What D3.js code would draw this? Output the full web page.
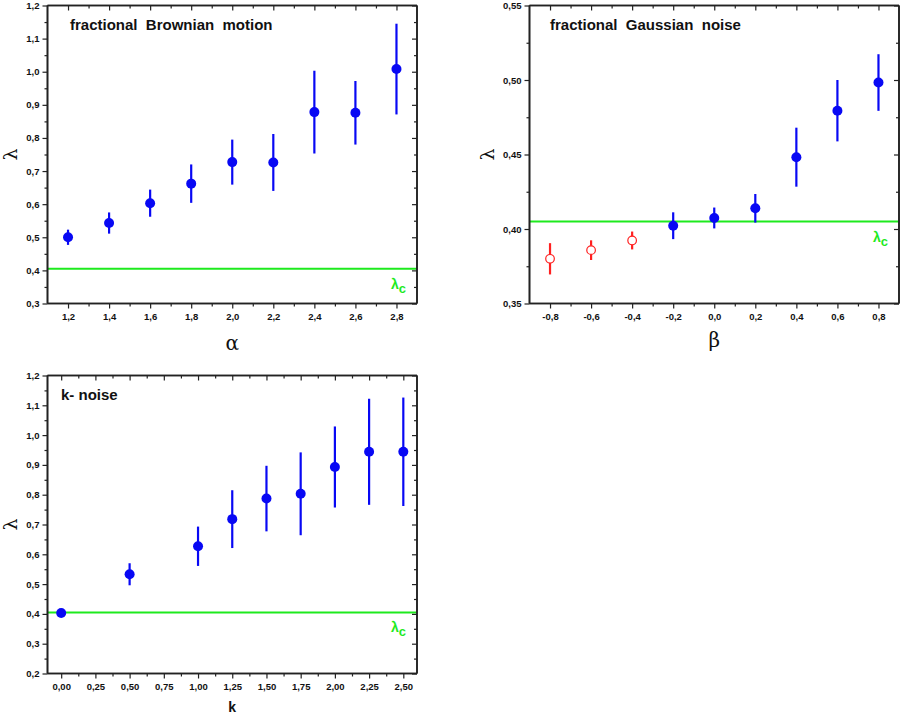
<!DOCTYPE html>
<html><head><meta charset="utf-8">
<script src="https://cdn.jsdelivr.net/npm/d3@7"></script>
<style>body{margin:0;background:#fff;} svg{display:block;font-family:"Liberation Sans",Arial,sans-serif;}</style>
</head><body>
<svg id="c" width="900" height="714"></svg>
<script>
const lambdaC = 0.405;

// Panel 1: fractional Brownian motion
const fbmAlpha = [1.2, 1.4, 1.6, 1.8, 2.0, 2.2, 2.4, 2.6, 2.8];
const fbmLambda = [0.500, 0.543, 0.603, 0.662, 0.727, 0.726, 0.878, 0.876, 1.008];
const fbmErr = [0.023, 0.032, 0.041, 0.058, 0.068, 0.086, 0.125, 0.096, 0.137];
const fbmXTicks = [1.2, 1.4, 1.6, 1.8, 2.0, 2.2, 2.4, 2.6, 2.8];
const fbmYTicks = [0.3, 0.4, 0.5, 0.6, 0.7, 0.8, 0.9, 1.0, 1.1, 1.2];

// Panel 2: fractional Gaussian noise
const fgnBeta = [-0.8, -0.6, -0.4, -0.2, 0.0, 0.2, 0.4, 0.6, 0.8];
const fgnLambda = [0.380, 0.3858, 0.3923, 0.4022, 0.4074, 0.4139, 0.4482, 0.4794, 0.4983];
const fgnErr = [0.0105, 0.0066, 0.006, 0.009, 0.007, 0.0096, 0.0198, 0.0206, 0.019];
const fgnOpen = [true, true, true, false, false, false, false, false, false];
const fgnXTicks = [-0.8, -0.6, -0.4, -0.2, 0.0, 0.2, 0.4, 0.6, 0.8];
const fgnYTicks = [0.35, 0.40, 0.45, 0.50, 0.55];

// Panel 3: k-noise
const kK = [0.0, 0.5, 1.0, 1.25, 1.5, 1.75, 2.0, 2.25, 2.5];
const kLambda = [0.403, 0.533, 0.627, 0.718, 0.787, 0.803, 0.893, 0.944, 0.944];
const kErr = [0, 0.037, 0.066, 0.097, 0.11, 0.139, 0.136, 0.178, 0.182];
const kXTicks = [0.0, 0.25, 0.5, 0.75, 1.0, 1.25, 1.5, 1.75, 2.0, 2.25, 2.5];
const kYTicks = [0.2, 0.3, 0.4, 0.5, 0.6, 0.7, 0.8, 0.9, 1.0, 1.1, 1.2];

const svg = d3.select("#c");
const BLUE = "#0808f4", RED = "#ff2020", GREEN = "#1eea1e", AX = "#222";

function comma(v, d){ return v.toFixed(d).replace(".", ","); }

function panel(o){
  const g = svg.append("g");
  const x = d3.scaleLinear().domain(o.xdom).range([o.left, o.right]);
  const y = d3.scaleLinear().domain(o.ydom).range([o.bottom, o.top]);
  const xMinor = [];
  for (let i = 0; i < o.xTicks.length - 1; i++) xMinor.push((o.xTicks[i] + o.xTicks[i+1]) / 2);
  xMinor.push(o.xTicks[0] - (o.xTicks[1]-o.xTicks[0])/2);
  xMinor.push(o.xTicks[o.xTicks.length-1] + (o.xTicks[1]-o.xTicks[0])/2);
  const yMinor = [];
  for (let i = 0; i < o.yTicks.length - 1; i++) yMinor.push((o.yTicks[i] + o.yTicks[i+1]) / 2);
  const xMin = xMinor.filter(v => v > o.xdom[0] && v < o.xdom[1]);

  g.append("line").attr("x1", x(o.xdom[0])).attr("x2", x(o.xdom[1]))
    .attr("y1", y(lambdaC)).attr("y2", y(lambdaC))
    .attr("stroke", GREEN).attr("stroke-width", 2);
  g.append("text").attr("x", o.right - 26).attr("y", y(lambdaC) + 20)
    .attr("fill", GREEN).attr("font-weight", "bold").attr("font-size", 14)
    .html('λ<tspan dy="4" font-size="13">c</tspan>');

  const bottomAxis = d3.axisBottom(x).tickValues(o.xTicks).tickFormat(v => comma(v, o.xd)).tickSize(5).tickPadding(5);
  const gb = g.append("g").attr("transform", `translate(0,${o.bottom})`).call(bottomAxis);
  gb.append("g").call(d3.axisBottom(x).tickValues(xMin).tickFormat("").tickSize(3));
  const topAxis = d3.axisBottom(x).tickValues(o.xTicks).tickFormat("").tickSize(5);
  const gt = g.append("g").attr("transform", `translate(0,${o.top})`).call(topAxis);
  gt.append("g").call(d3.axisBottom(x).tickValues(xMin).tickFormat("").tickSize(3));
  const leftAxis = d3.axisLeft(y).tickValues(o.yTicks).tickFormat(v => comma(v, o.yd)).tickSize(5).tickPadding(3);
  const gl = g.append("g").attr("transform", `translate(${o.left},0)`).call(leftAxis);
  gl.append("g").call(d3.axisLeft(y).tickValues(yMinor).tickFormat("").tickSize(3));
  const gr = g.append("g").attr("transform", `translate(${o.right},0)`).call(d3.axisLeft(y).tickValues(o.yTicks).tickFormat("").tickSize(5));
  gr.append("g").call(d3.axisLeft(y).tickValues(yMinor).tickFormat("").tickSize(3));
  [gb, gt, gl, gr].forEach(a => {
    a.selectAll("path.domain").attr("stroke", AX).attr("stroke-width", 1.6);
    a.selectAll("line").attr("stroke", AX).attr("stroke-width", 1.2);
    a.selectAll("text").attr("font-size", 9.5).attr("font-weight", "bold").attr("fill", "#111")
      .attr("font-family", "'Liberation Sans',Arial,sans-serif");
  });
  gb.selectAll(".domain").attr("d", `M${o.left},0H${o.right}`);
  gt.selectAll(".domain").attr("d", `M${o.left},0H${o.right}`);
  gl.selectAll(".domain").attr("d", `M0,${o.bottom}V${o.top}`);
  gr.selectAll(".domain").attr("d", `M0,${o.bottom}V${o.top}`);

  const pts = o.xs.map((v, i) => ({x: v, y: o.ys[i], e: o.es[i], open: o.open ? o.open[i] : false}));
  g.selectAll("line.err").data(pts.filter(d => d.e > 0)).join("line").attr("class", "err")
    .attr("x1", d => x(d.x)).attr("x2", d => x(d.x))
    .attr("y1", d => y(d.y - d.e)).attr("y2", d => y(d.y + d.e))
    .attr("stroke", d => d.open ? RED : BLUE).attr("stroke-width", 2.2);
  g.selectAll("circle.pt").data(pts).join("circle").attr("class", "pt")
    .attr("cx", d => x(d.x)).attr("cy", d => y(d.y))
    .attr("r", d => d.open ? 4.3 : 5)
    .attr("fill", d => d.open ? "#fff" : BLUE)
    .attr("stroke", d => d.open ? RED : BLUE).attr("stroke-width", d => d.open ? 1.2 : 0);

  g.append("text").attr("x", o.titleX).attr("y", o.titleY).text(o.title)
    .attr("font-size", 15).attr("font-weight", "bold").attr("fill", "#111")
    .attr("xml:space", "preserve").style("white-space", "pre");
  g.append("text").attr("transform", `translate(${o.ylabX},${(o.top+o.bottom)/2}) rotate(-90)`)
    .attr("text-anchor", "middle").attr("font-size", 19).attr("fill", "#111")
    .attr("font-family", "'DejaVu Serif',serif").text("λ");
  g.append("text").attr("x", (o.left + o.right)/2).attr("y", o.xlabY)
    .attr("text-anchor", "middle").attr("font-size", o.xlabSize).attr("fill", "#111")
    .attr("font-weight", o.xlabBold ? "bold" : "normal")
    .attr("font-family", o.xlabBold ? "'Liberation Sans',Arial,sans-serif" : "'DejaVu Serif',serif")
    .text(o.xlab);
}

panel({left: 47.5, right: 417, top: 5.5, bottom: 303.5, xdom: [1.1, 2.9], ydom: [0.3, 1.2],
  xTicks: fbmXTicks, yTicks: fbmYTicks, xd: 1, yd: 1,
  xs: fbmAlpha, ys: fbmLambda, es: fbmErr,
  title: "fractional  Brownian  motion", titleX: 70, titleY: 30,
  ylabX: 17, xlab: "α", xlabY: 350, xlabSize: 20});

panel({left: 529.5, right: 899, top: 5.5, bottom: 303.5, xdom: [-0.9, 0.9], ydom: [0.35, 0.55],
  xTicks: fgnXTicks, yTicks: fgnYTicks, xd: 1, yd: 2,
  xs: fgnBeta, ys: fgnLambda, es: fgnErr, open: fgnOpen,
  title: "fractional  Gaussian  noise", titleX: 550, titleY: 30,
  ylabX: 494, xlab: "β", xlabY: 347, xlabSize: 20});

panel({left: 47.5, right: 417, top: 375.5, bottom: 673.5, xdom: [-0.1, 2.6], ydom: [0.2, 1.2],
  xTicks: kXTicks, yTicks: kYTicks, xd: 2, yd: 1,
  xs: kK, ys: kLambda, es: kErr,
  title: "k- noise", titleX: 61, titleY: 400,
  ylabX: 17, xlab: "k", xlabY: 712, xlabSize: 14, xlabBold: true});
</script>
</body></html>
